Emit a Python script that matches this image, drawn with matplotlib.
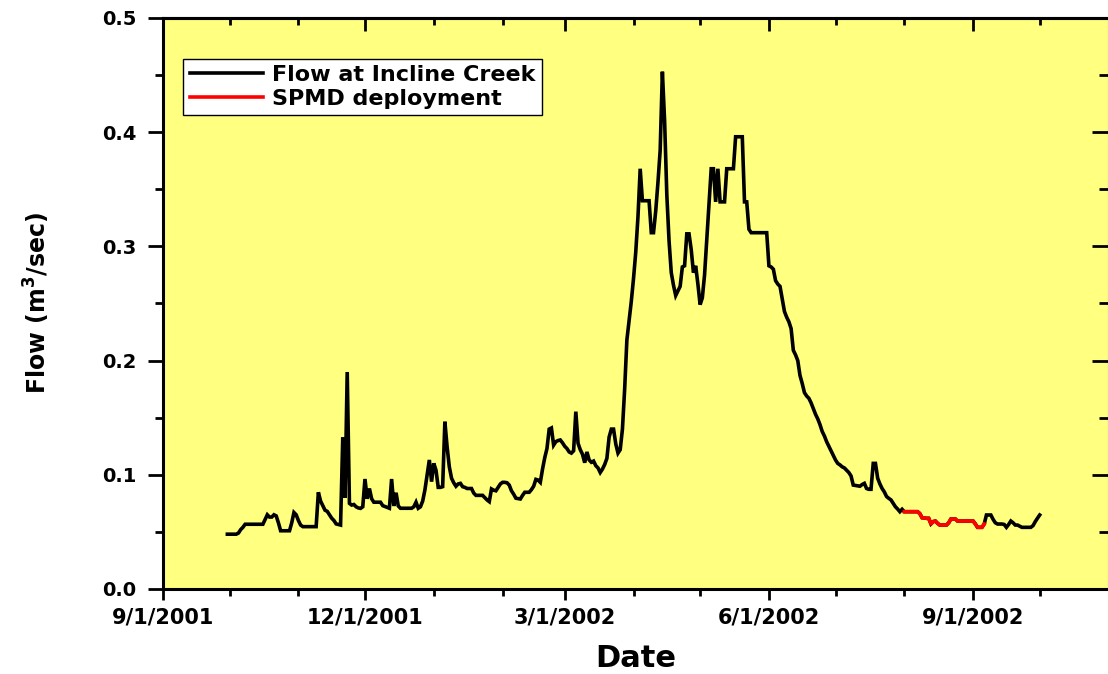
import matplotlib
matplotlib.use("Agg")
import matplotlib.pyplot as plt
import matplotlib.dates as mdates
from matplotlib.ticker import MultipleLocator, FuncFormatter
import numpy as np
import datetime as dt

# ---------------- data ----------------
dates = [
    "2001-09-30", "2001-10-04", "2001-10-05", "2001-10-06", "2001-10-07", "2001-10-08",
    "2001-10-16", "2001-10-18", "2001-10-19", "2001-10-20", "2001-10-21", "2001-10-22",
    "2001-10-23", "2001-10-24", "2001-10-28", "2001-10-29", "2001-10-30", "2001-10-31",
    "2001-11-01", "2001-11-02", "2001-11-03", "2001-11-09", "2001-11-10", "2001-11-11",
    "2001-11-12", "2001-11-13", "2001-11-14", "2001-11-15", "2001-11-16", "2001-11-17",
    "2001-11-18", "2001-11-19", "2001-11-20", "2001-11-21", "2001-11-22", "2001-11-23",
    "2001-11-24", "2001-11-25", "2001-11-26", "2001-11-27", "2001-11-28", "2001-11-29",
    "2001-11-30", "2001-12-01", "2001-12-02", "2001-12-03", "2001-12-04", "2001-12-05",
    "2001-12-08", "2001-12-09", "2001-12-12", "2001-12-13", "2001-12-14", "2001-12-15",
    "2001-12-16", "2001-12-17", "2001-12-22", "2001-12-23", "2001-12-24", "2001-12-25",
    "2001-12-26", "2001-12-27", "2001-12-28", "2001-12-29", "2001-12-30", "2001-12-31",
    "2002-01-01", "2002-01-02", "2002-01-03", "2002-01-04", "2002-01-05", "2002-01-06",
    "2002-01-07", "2002-01-08", "2002-01-09", "2002-01-10", "2002-01-11", "2002-01-12",
    "2002-01-13", "2002-01-14", "2002-01-15", "2002-01-16", "2002-01-18", "2002-01-19",
    "2002-01-20", "2002-01-23", "2002-01-24", "2002-01-25", "2002-01-26", "2002-01-27",
    "2002-01-28", "2002-01-29", "2002-01-30", "2002-01-31", "2002-02-01", "2002-02-02",
    "2002-02-03", "2002-02-04", "2002-02-05", "2002-02-06", "2002-02-07", "2002-02-09",
    "2002-02-10", "2002-02-11", "2002-02-13", "2002-02-14", "2002-02-15", "2002-02-16",
    "2002-02-17", "2002-02-18", "2002-02-19", "2002-02-20", "2002-02-21", "2002-02-22",
    "2002-02-23", "2002-02-24", "2002-02-25", "2002-02-26", "2002-02-27", "2002-02-28",
    "2002-03-01", "2002-03-02", "2002-03-03", "2002-03-04", "2002-03-05", "2002-03-06",
    "2002-03-07", "2002-03-08", "2002-03-09", "2002-03-10", "2002-03-11", "2002-03-12",
    "2002-03-13", "2002-03-14", "2002-03-15", "2002-03-16", "2002-03-17", "2002-03-18",
    "2002-03-19", "2002-03-20", "2002-03-21", "2002-03-22", "2002-03-23", "2002-03-24",
    "2002-03-25", "2002-03-26", "2002-03-27", "2002-03-28", "2002-03-29", "2002-03-30",
    "2002-03-31", "2002-04-01", "2002-04-02", "2002-04-03", "2002-04-04", "2002-04-05",
    "2002-04-08", "2002-04-09", "2002-04-10", "2002-04-11", "2002-04-12", "2002-04-13",
    "2002-04-14", "2002-04-15", "2002-04-16", "2002-04-17", "2002-04-18", "2002-04-19",
    "2002-04-20", "2002-04-21", "2002-04-22", "2002-04-23", "2002-04-24", "2002-04-25",
    "2002-04-26", "2002-04-27", "2002-04-28", "2002-04-29", "2002-04-30", "2002-05-01",
    "2002-05-02", "2002-05-03", "2002-05-04", "2002-05-05", "2002-05-06", "2002-05-07",
    "2002-05-08", "2002-05-09", "2002-05-10", "2002-05-12", "2002-05-13", "2002-05-16",
    "2002-05-17", "2002-05-20", "2002-05-21", "2002-05-22", "2002-05-23", "2002-05-24",
    "2002-05-31", "2002-06-01", "2002-06-02", "2002-06-03", "2002-06-04", "2002-06-05",
    "2002-06-06", "2002-06-07", "2002-06-08", "2002-06-09", "2002-06-10", "2002-06-11",
    "2002-06-12", "2002-06-13", "2002-06-14", "2002-06-15", "2002-06-16", "2002-06-17",
    "2002-06-18", "2002-06-19", "2002-06-20", "2002-06-21", "2002-06-22", "2002-06-23",
    "2002-06-24", "2002-06-25", "2002-06-26", "2002-06-27", "2002-06-28", "2002-06-29",
    "2002-06-30", "2002-07-01", "2002-07-02", "2002-07-03", "2002-07-04", "2002-07-05",
    "2002-07-06", "2002-07-07", "2002-07-08", "2002-07-09", "2002-07-12", "2002-07-13",
    "2002-07-14", "2002-07-15", "2002-07-16", "2002-07-17", "2002-07-18", "2002-07-19",
    "2002-07-20", "2002-07-21", "2002-07-22", "2002-07-23", "2002-07-24", "2002-07-25",
    "2002-07-26", "2002-07-27", "2002-07-28", "2002-07-29", "2002-07-30", "2002-07-31",
    "2002-08-01", "2002-08-07", "2002-08-08", "2002-08-09", "2002-08-10", "2002-08-11",
    "2002-08-12", "2002-08-13", "2002-08-14", "2002-08-15", "2002-08-16", "2002-08-17",
    "2002-08-20", "2002-08-21", "2002-08-22", "2002-08-24", "2002-08-25", "2002-09-01",
    "2002-09-02", "2002-09-03", "2002-09-05", "2002-09-06", "2002-09-07", "2002-09-09",
    "2002-09-10", "2002-09-11", "2002-09-12", "2002-09-14", "2002-09-15", "2002-09-16",
    "2002-09-17", "2002-09-18", "2002-09-19", "2002-09-20", "2002-09-21", "2002-09-22",
    "2002-09-23", "2002-09-27", "2002-09-28", "2002-09-29", "2002-09-30", "2002-10-01",
]

flow = [
    0.048, 0.048, 0.049, 0.052, 0.054, 0.0567,
    0.0567, 0.065, 0.063, 0.063, 0.065, 0.064,
    0.058, 0.051, 0.051, 0.058, 0.067, 0.065,
    0.060, 0.056, 0.0546, 0.0546, 0.0847, 0.077,
    0.073, 0.069, 0.068, 0.065, 0.062, 0.060,
    0.057, 0.0565, 0.056, 0.133, 0.080, 0.190,
    0.075, 0.0735, 0.074, 0.072, 0.071, 0.0706,
    0.072, 0.0963, 0.079, 0.088, 0.079, 0.076,
    0.076, 0.073, 0.0707, 0.0963, 0.0727, 0.0843,
    0.0727, 0.0707, 0.0707, 0.072, 0.076, 0.0707,
    0.072, 0.077, 0.0867, 0.100, 0.113, 0.094,
    0.110, 0.104, 0.089, 0.089, 0.0896, 0.1465,
    0.1246, 0.107, 0.097, 0.093, 0.090, 0.092,
    0.0925, 0.0896, 0.089, 0.088, 0.088, 0.084,
    0.082, 0.082, 0.080, 0.078, 0.0765, 0.0876,
    0.0865, 0.086, 0.089, 0.092, 0.0934, 0.0934,
    0.093, 0.091, 0.086, 0.083, 0.0795, 0.0788,
    0.082, 0.0847, 0.0847, 0.087, 0.090, 0.096,
    0.0954, 0.0934, 0.105, 0.115, 0.123, 0.140,
    0.141, 0.126, 0.129, 0.130, 0.1305, 0.128,
    0.125, 0.123, 0.120, 0.119, 0.121, 0.1553,
    0.1276, 0.122, 0.118, 0.1106, 0.120, 0.113,
    0.111, 0.112, 0.108, 0.106, 0.102, 0.105,
    0.109, 0.1144, 0.133, 0.140, 0.140, 0.127,
    0.119, 0.122, 0.140, 0.175, 0.218, 0.235,
    0.252, 0.272, 0.295, 0.326, 0.368, 0.340,
    0.340, 0.312, 0.312, 0.331, 0.356, 0.384,
    0.453, 0.410, 0.345, 0.305, 0.277, 0.266,
    0.257, 0.261, 0.265, 0.282, 0.283, 0.311,
    0.311, 0.297, 0.277, 0.283, 0.267, 0.249,
    0.255, 0.275, 0.3056, 0.335, 0.368, 0.368,
    0.339, 0.368, 0.339, 0.339, 0.368, 0.368,
    0.396, 0.396, 0.339, 0.339, 0.315, 0.312,
    0.312, 0.283, 0.282, 0.280, 0.270, 0.267,
    0.265, 0.254, 0.243, 0.238, 0.234, 0.228,
    0.209, 0.205, 0.200, 0.187, 0.180, 0.172,
    0.169, 0.167, 0.163, 0.158, 0.153, 0.149,
    0.144, 0.138, 0.134, 0.129, 0.125, 0.121,
    0.117, 0.113, 0.110, 0.1087, 0.107, 0.106,
    0.104, 0.102, 0.099, 0.091, 0.090, 0.0915,
    0.0925, 0.088, 0.0873, 0.0873, 0.110, 0.110,
    0.097, 0.092, 0.088, 0.085, 0.081, 0.0794,
    0.078, 0.075, 0.072, 0.070, 0.0677, 0.0698,
    0.0677, 0.0677, 0.066, 0.0624, 0.0622, 0.0619,
    0.0619, 0.057, 0.059, 0.0595, 0.0575, 0.056,
    0.056, 0.058, 0.0613, 0.0613, 0.0595, 0.0595,
    0.057, 0.054, 0.054, 0.0569, 0.0648, 0.0648,
    0.061, 0.058, 0.0569, 0.0569, 0.0565, 0.054,
    0.0565, 0.0595, 0.058, 0.056, 0.056, 0.055,
    0.054, 0.054, 0.0555, 0.059, 0.062, 0.0648,
]

deploy_start = "2002-08-01"
deploy_end = "2002-09-06"

series_labels = ["Flow at Incline Creek", "SPMD deployment"]
x_range = ["2001-09-01", "2002-11-01"]
major_tick_dates = ["2001-09-01", "2001-12-01", "2002-03-01", "2002-06-01", "2002-09-01"]

# ---------------- figure ----------------
d = np.array([np.datetime64(s) for s in dates]).astype("datetime64[D]").astype(object)
q = np.array(flow)
mask = (np.array(dates) >= deploy_start) & (np.array(dates) <= deploy_end)

W, H = 1108, 674
fig = plt.figure(figsize=(W / 100, H / 100), dpi=100)
fig.patch.set_facecolor("white")
left, right, bottom, top = 163, 1108.5, 589, 18
ax = fig.add_axes([left / W, 1 - bottom / H, (right - left) / W, (bottom - top) / H])
ax.set_facecolor("#FFFF80")

line_flow, = ax.plot(d, q, color="black", lw=2.6, solid_joinstyle="miter", zorder=3,
                     label=series_labels[0])
line_dep, = ax.plot(d[mask], q[mask], color="#FF0000", lw=2.6, zorder=4,
                    label=series_labels[1])

xmin = dt.date.fromisoformat(x_range[0])
xmax = dt.date.fromisoformat(x_range[1])
ax.set_xlim(xmin, xmax)
ax.set_ylim(0, 0.5)

major_dates = [dt.date.fromisoformat(s) for s in major_tick_dates]
ax.set_xticks(major_dates)
ax.xaxis.set_minor_locator(mdates.MonthLocator())
ax.xaxis.set_major_formatter(FuncFormatter(
    lambda v, p: (lambda t: f"{t.month}/{t.day}/{t.year}")(mdates.num2date(v))))
ax.yaxis.set_major_locator(MultipleLocator(0.1))
ax.yaxis.set_minor_locator(MultipleLocator(0.05))
ax.yaxis.set_major_formatter(FuncFormatter(lambda v, p: f"{v:.1f}"))

for s in ax.spines.values():
    s.set_linewidth(2.2)

ax.tick_params(axis="both", which="major", direction="out", width=2, colors="black")
ax.tick_params(axis="x", which="major", length=8, labelsize=15, pad=5)
ax.tick_params(axis="y", which="major", length=11, labelsize=14, pad=8)
ax.tick_params(axis="x", which="minor", direction="out", length=5, width=2)
ax.tick_params(axis="y", which="minor", direction="out", length=6, width=2)
for lab in ax.get_xticklabels() + ax.get_yticklabels():
    lab.set_fontweight("bold")

# mirrored inward ticks on top and right
axt = ax.secondary_xaxis("top")
axt.set_xticks(major_dates)
axt.xaxis.set_minor_locator(mdates.MonthLocator())
axt.tick_params(axis="x", which="major", direction="in", length=9, width=2, labeltop=False)
axt.tick_params(axis="x", which="minor", direction="in", length=5, width=2)
axt.spines["top"].set_linewidth(2.2)

axr = ax.secondary_yaxis("right")
axr.yaxis.set_major_locator(MultipleLocator(0.1))
axr.yaxis.set_minor_locator(MultipleLocator(0.05))
axr.tick_params(axis="y", which="major", direction="in", length=12, width=2, labelright=False)
axr.tick_params(axis="y", which="minor", direction="in", length=7, width=2)

ax.set_xlabel("Date", fontsize=22, fontweight="bold", labelpad=12)
ax.set_ylabel(r"Flow (m$^{\mathbf{3}}$/sec)", fontsize=17, fontweight="bold", labelpad=36)

leg = ax.legend(handles=[line_flow, line_dep], loc="upper left",
                bbox_to_anchor=(0.021, 0.929), borderaxespad=0,
                frameon=True, fancybox=False, shadow=False,
                handlelength=3.3, handletextpad=0.4, labelspacing=0.15,
                borderpad=0.3, prop={"weight": "bold", "size": 16})
leg.get_frame().set_edgecolor("black")
leg.get_frame().set_linewidth(1.0)
leg.get_frame().set_facecolor("white")
leg.get_frame().set_alpha(1)

fig.savefig("out.png", dpi=100)
